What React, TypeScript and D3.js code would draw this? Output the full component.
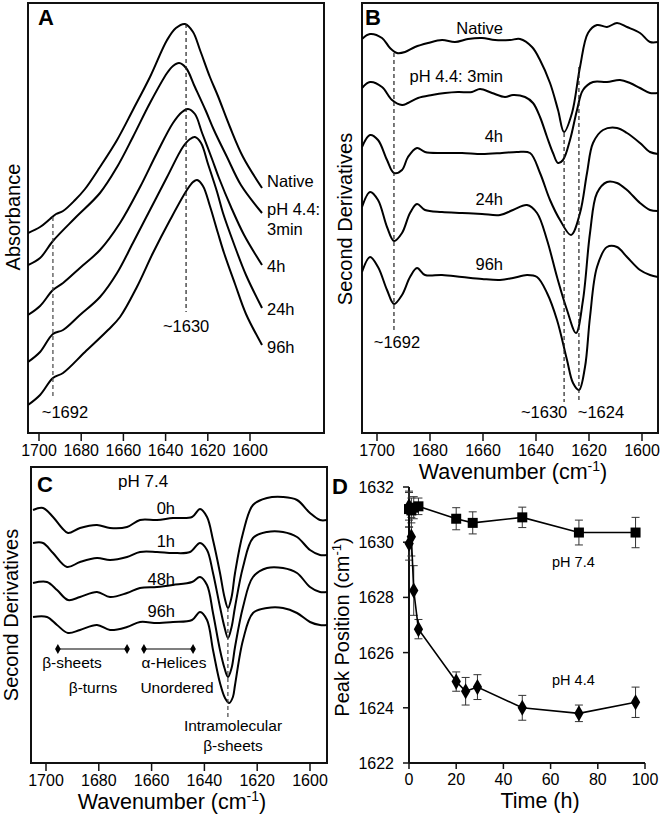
import React from 'react';
import * as d3 from 'd3';

type Pt = [number, number];

// ---------- Panel A: absorbance spectra [wavenumber cm-1, absorbance a.u. (stacked)] ----------
const absNative: Pt[] = [[1705.2,2.00],[1699.5,2.06],[1694.8,2.14],[1691.9,2.19],[1688.6,2.22],[1682.9,2.33],[1678.2,2.44],[1671.1,2.66],[1663.0,2.93],[1655.5,3.23],[1647.4,3.56],[1639.3,3.93],[1635.1,4.05],[1630.8,4.09],[1627.0,4.01],[1623.7,3.83],[1619.0,3.56],[1615.2,3.37],[1609.5,3.06],[1603.3,2.76],[1594.3,2.45]];
const abs3min: Pt[] = [[1705.2,1.68],[1699.5,1.75],[1693.4,1.92],[1682.9,2.15],[1671.1,2.40],[1663.0,2.66],[1655.5,2.96],[1647.4,3.30],[1639.3,3.60],[1636.5,3.67],[1633.6,3.70],[1630.3,3.65],[1626.1,3.46],[1620.9,3.22],[1617.1,3.03],[1610.9,2.76],[1604.3,2.48],[1594.3,2.20]];
const abs4h: Pt[] = [[1705.2,1.18],[1699.5,1.27],[1693.4,1.43],[1688.6,1.50],[1680.6,1.65],[1671.1,1.83],[1661.6,2.10],[1652.1,2.46],[1644.1,2.80],[1636.5,3.10],[1632.2,3.21],[1629.4,3.24],[1626.1,3.19],[1622.7,3.00],[1618.0,2.74],[1614.7,2.55],[1609.0,2.26],[1602.8,1.98],[1594.3,1.68]];
const abs24h: Pt[] = [[1705.2,0.71],[1699.5,0.81],[1693.4,0.99],[1688.6,1.03],[1680.6,1.18],[1671.1,1.36],[1663.0,1.60],[1655.5,1.90],[1647.4,2.23],[1639.3,2.56],[1631.8,2.86],[1628.4,2.94],[1626.1,2.96],[1623.2,2.90],[1619.9,2.69],[1615.6,2.41],[1612.8,2.20],[1607.6,1.89],[1601.9,1.58],[1594.3,1.25]];
const abs96h: Pt[] = [[1705.2,0.28],[1699.5,0.38],[1693.4,0.55],[1688.6,0.60],[1678.2,0.81],[1667.3,1.03],[1661.6,1.16],[1653.6,1.46],[1646.0,1.80],[1637.9,2.13],[1629.9,2.43],[1627.0,2.51],[1625.1,2.53],[1622.3,2.47],[1619.0,2.27],[1615.2,2.00],[1612.3,1.80],[1607.1,1.49],[1601.9,1.19],[1594.3,0.88]];
const absLabels = ['Native', 'pH 4.4:', '3min', '4h', '24h', '96h'];
const absMarks = [1693.4, 1630.3];
const absMarkLabels = ['~1692', '~1630'];

// ---------- Panel B: second derivatives ----------
const d2Native: Pt[] = [[1705.66,3.94],[1702.64,3.99],[1698.11,3.95],[1695.09,3.85],[1692.45,3.80],[1689.43,3.81],[1685.66,3.86],[1680.75,3.90],[1675.47,3.93],[1670.56,3.91],[1665.66,3.94],[1660.37,3.95],[1655.47,3.93],[1649.81,3.93],[1646.03,3.94],[1641.51,3.86],[1638.49,3.73],[1634.71,3.50],[1631.69,3.23],[1629.43,3.01],[1626.41,3.20],[1623.39,3.66],[1620.37,4.00],[1616.98,4.08],[1613.20,4.06],[1609.43,4.10],[1605.66,4.06],[1600.75,4.00],[1596.98,3.91],[1593.96,3.91]];
const d2_3min: Pt[] = [[1705.66,3.45],[1702.64,3.51],[1698.11,3.46],[1694.34,3.33],[1690.56,3.28],[1688.30,3.30],[1684.52,3.35],[1679.24,3.38],[1674.34,3.40],[1669.43,3.41],[1664.15,3.41],[1661.13,3.44],[1656.60,3.40],[1651.69,3.36],[1648.68,3.38],[1644.15,3.36],[1641.13,3.30],[1638.49,3.16],[1635.84,2.96],[1633.58,2.80],[1631.69,2.70],[1629.81,2.73],[1627.17,2.93],[1624.52,3.23],[1622.26,3.43],[1618.49,3.51],[1613.20,3.51],[1608.30,3.53],[1604.52,3.50],[1600.75,3.45],[1596.98,3.40],[1593.96,3.40]];
const d2_4h: Pt[] = [[1705.66,2.86],[1702.64,2.98],[1699.62,2.93],[1696.22,2.73],[1693.58,2.60],[1690.56,2.63],[1688.30,2.76],[1684.90,2.85],[1681.88,2.81],[1675.47,2.80],[1667.92,2.80],[1660.37,2.79],[1652.83,2.80],[1647.17,2.81],[1642.26,2.80],[1638.49,2.60],[1634.71,2.33],[1630.94,2.13],[1626.79,1.98],[1623.39,2.20],[1620.75,2.60],[1618.49,2.90],[1614.71,3.03],[1609.43,3.05],[1605.66,3.00],[1600.75,2.90],[1596.98,2.81],[1593.96,2.79]];
const d2_24h: Pt[] = [[1705.66,2.26],[1702.64,2.41],[1699.62,2.33],[1696.22,2.06],[1693.58,1.92],[1690.56,2.00],[1687.54,2.20],[1684.90,2.29],[1681.88,2.23],[1675.47,2.21],[1667.92,2.20],[1660.37,2.19],[1653.58,2.18],[1648.68,2.23],[1643.39,2.28],[1639.62,2.20],[1635.84,1.93],[1632.07,1.56],[1628.30,1.23],[1624.90,1.00],[1622.26,1.33],[1619.62,2.00],[1616.98,2.40],[1613.20,2.51],[1609.43,2.50],[1605.66,2.43],[1600.75,2.30],[1596.98,2.23],[1593.96,2.22]];
const d2_96h: Pt[] = [[1705.66,1.61],[1702.64,1.76],[1699.62,1.66],[1696.22,1.43],[1693.58,1.29],[1690.56,1.38],[1687.54,1.56],[1684.90,1.65],[1681.88,1.58],[1675.47,1.58],[1667.92,1.56],[1660.37,1.54],[1653.58,1.53],[1648.68,1.55],[1643.39,1.58],[1639.62,1.56],[1635.84,1.40],[1632.07,1.13],[1628.30,0.73],[1626.03,0.50],[1623.77,0.43],[1621.51,0.66],[1619.62,1.16],[1616.98,1.66],[1613.20,1.86],[1609.43,1.86],[1605.66,1.76],[1600.75,1.63],[1596.98,1.58],[1593.96,1.56]];
const d2Labels = ['Native', 'pH 4.4: 3min', '4h', '24h', '96h'];
const d2Marks = [1693.6, 1629.4, 1623.8];
const d2MarkLabels = ['~1692', '~1630', '~1624'];

// ---------- Panel C: second derivatives at pH 7.4 ----------
const c0h: Pt[] = [[1704.92,2.53],[1701.13,2.55],[1697.34,2.46],[1693.94,2.35],[1691.66,2.30],[1687.12,2.35],[1680.68,2.38],[1675.75,2.35],[1669.31,2.36],[1664.39,2.43],[1657.95,2.43],[1651.89,2.45],[1644.69,2.46],[1641.66,2.54],[1639.01,2.46],[1636.74,2.23],[1634.09,1.90],[1632.4,1.66],[1631.06,1.55],[1629.7,1.66],[1628.40,1.90],[1625.37,2.30],[1621.59,2.58],[1616.28,2.65],[1610.22,2.66],[1604.92,2.63],[1600.00,2.50],[1596.21,2.43],[1593.56,2.43]];
const c1h: Pt[] = [[1704.92,2.20],[1701.13,2.20],[1697.34,2.10],[1692.04,1.96],[1687.12,2.01],[1680.68,2.05],[1675.75,2.03],[1669.31,2.06],[1664.39,2.11],[1657.95,2.11],[1651.89,2.10],[1645.45,2.11],[1641.66,2.20],[1639.01,2.13],[1636.74,1.90],[1634.09,1.56],[1632.4,1.36],[1631.06,1.25],[1629.7,1.36],[1628.40,1.56],[1625.37,1.96],[1621.59,2.25],[1616.28,2.31],[1610.22,2.31],[1604.92,2.26],[1600.00,2.13],[1596.21,2.08],[1593.56,2.08]];
const c48h: Pt[] = [[1704.92,1.80],[1699.62,1.81],[1695.83,1.73],[1691.66,1.63],[1687.12,1.66],[1680.68,1.71],[1675.75,1.66],[1669.31,1.70],[1664.39,1.75],[1657.95,1.76],[1651.89,1.78],[1644.69,1.81],[1641.66,1.86],[1639.01,1.78],[1636.74,1.50],[1634.09,1.13],[1632.4,0.95],[1631.06,0.86],[1629.7,0.95],[1628.40,1.16],[1625.37,1.56],[1621.59,1.86],[1616.28,1.95],[1610.22,1.95],[1604.92,1.90],[1600.00,1.76],[1596.21,1.71],[1593.56,1.71]];
const c96h: Pt[] = [[1704.92,1.46],[1699.62,1.46],[1695.83,1.38],[1691.66,1.30],[1687.12,1.33],[1680.68,1.38],[1675.75,1.33],[1669.31,1.36],[1664.39,1.41],[1657.95,1.40],[1651.89,1.41],[1644.69,1.43],[1641.66,1.51],[1639.01,1.43],[1636.74,1.13],[1634.09,0.80],[1632.2,0.65],[1630.6,0.60],[1629.2,0.66],[1628.40,0.78],[1625.37,1.23],[1621.59,1.50],[1616.28,1.55],[1610.22,1.55],[1604.92,1.50],[1600.00,1.41],[1596.21,1.38],[1593.56,1.38]];
const cLabels = ['0h', '1h', '48h', '96h'];
const cMark = 1631.1;
const bandBetaSheets: Pt = [1695.5, 1669.3];
const bandAlphaHelices: Pt = [1662.9, 1644.3];

// ---------- Panel D: amide I peak position vs time ----------
const timePH74 = [0, 1, 2, 4, 20, 27, 48, 72, 96];
const peakPH74 = [1631.2, 1631.15, 1631.25, 1631.3, 1630.85, 1630.7, 1630.9, 1630.35, 1630.35];
const errPH74 = [0.65, 0.45, 0.4, 0.3, 0.4, 0.4, 0.37, 0.45, 0.55];
const timePH44 = [0, 0.05, 1, 2, 4, 20, 24, 29, 48, 72, 96];
const peakPH44 = [1631.3, 1629.95, 1630.2, 1628.25, 1626.85, 1624.95, 1624.6, 1624.75, 1624.0, 1623.8, 1624.2];
const errPH44 = [0.5, 0.6, 0.7, 0.9, 0.35, 0.35, 0.5, 0.45, 0.45, 0.3, 0.55];

const wavenumberTicks = [1700, 1680, 1660, 1640, 1620, 1600];
const timeTicks = [0, 20, 40, 60, 80, 100];
const peakTicks = [1622, 1624, 1626, 1628, 1630, 1632];

const FONT = "'Liberation Sans', Arial, Helvetica, sans-serif";

type Box = { x0: number; x1: number; y0: number; y1: number };

function lineFor(x: d3.ScaleLinear<number, number>, y: d3.ScaleLinear<number, number>) {
  return d3.line<Pt>().x(d => x(d[0])).y(d => y(d[1])).curve(d3.curveCatmullRom.alpha(0.5));
}

function Frame({ box, id }: { box: Box; id: string }) {
  return (
    <>
      <defs>
        <clipPath id={id}>
          <rect x={box.x0} y={box.y0} width={box.x1 - box.x0} height={box.y1 - box.y0} />
        </clipPath>
      </defs>
      <rect x={box.x0} y={box.y0} width={box.x1 - box.x0} height={box.y1 - box.y0} fill="none" stroke="#111" strokeWidth={2} />
    </>
  );
}

function WaveTicks({ x, box, labelDy }: { x: d3.ScaleLinear<number, number>; box: Box; labelDy: number }) {
  return (
    <g>
      {wavenumberTicks.map(t => (
        <g key={t}>
          <line x1={x(t)} x2={x(t)} y1={box.y1} y2={box.y1 + 8} stroke="#111" strokeWidth={1.5} />
          <text x={x(t)} y={box.y1 + labelDy} textAnchor="middle" fontSize={16}>{t}</text>
        </g>
      ))}
    </g>
  );
}

function WaveTitle({ cx, y }: { cx: number; y: number }) {
  return (
    <text x={cx} y={y} textAnchor="middle" fontSize={21.5}>
      Wavenumber (cm<tspan dy={-8} fontSize={14}>-1</tspan><tspan dy={8}>)</tspan>
    </text>
  );
}

function RotTitle({ x, cy, children }: { x: number; cy: number; children: React.ReactNode }) {
  return (
    <text transform={`translate(${x},${cy}) rotate(-90)`} textAnchor="middle" fontSize={20}>{children}</text>
  );
}

export default function App() {
  const boxA: Box = { x0: 28, x1: 324, y0: 3, y1: 433 };
  const boxB: Box = { x0: 362, x1: 658, y0: 3, y1: 433 };
  const boxC: Box = { x0: 31, x1: 327, y0: 467, y1: 763 };

  const xA = d3.scaleLinear().domain([1700, 1600]).range([39, 250]);
  const yA = d3.scaleLinear().domain([0, 4.3]).range([433, 3]);
  const xB = d3.scaleLinear().domain([1700, 1600]).range([377, 642]);
  const yB = d3.scaleLinear().domain([0, 4.3]).range([433, 3]);
  const xC = d3.scaleLinear().domain([1700, 1600]).range([46, 310]);
  const yC = d3.scaleLinear().domain([0, 2.96]).range([763, 467]);
  const xD = d3.scaleLinear().domain([0, 100]).range([409, 645]);
  const yD = d3.scaleLinear().domain([1622, 1632]).range([763, 487]);

  const lA = lineFor(xA, yA);
  const lB = lineFor(xB, yB);
  const lC = lineFor(xC, yC);
  const lD = d3.line<Pt>().x(d => xD(d[0])).y(d => yD(d[1]));

  const absCurves = [absNative, abs3min, abs4h, abs24h, abs96h];
  const d2Curves = [d2Native, d2_3min, d2_4h, d2_24h, d2_96h];
  const cCurves = [c0h, c1h, c48h, c96h];

  // label layout (pixel positions of annotation text)
  const absLabelY = [187, 215, 235, 272, 315, 353];
  const d2LabelY = [34, 82, 142, 205, 270];
  const cLabelY = [514, 547, 585, 617];

  const pts74: Pt[] = timePH74.map((t, i) => [t, peakPH74[i]]);
  const pts44: Pt[] = timePH44.map((t, i) => [t, peakPH44[i]]);

  const dash = '4,3';

  return (
    <svg width={662} height={814} viewBox="0 0 662 814" style={{ position: 'absolute', left: 0, top: 0, background: '#fff' }} fontFamily={FONT}>
      <rect x={0} y={0} width={662} height={814} fill="#fff" />

      {/* ---------------- Panel A ---------------- */}
      <Frame box={boxA} id="clipA" />
      <g clipPath="url(#clipA)">
        {absCurves.map((c, i) => (
          <path key={i} d={lA(c) || ''} fill="none" stroke="#000" strokeWidth={2} />
        ))}
      </g>
      <line x1={xA(absMarks[0])} x2={xA(absMarks[0])} y1={217} y2={398} stroke="#444" strokeWidth={1.2} strokeDasharray={dash} />
      <line x1={xA(absMarks[1])} x2={xA(absMarks[1])} y1={yA(4.09)} y2={312} stroke="#222" strokeWidth={1.2} strokeDasharray={dash} />
      <text x={xA(absMarks[0]) + 12} y={418} textAnchor="middle" fontSize={16.5}>{absMarkLabels[0]}</text>
      <text x={xA(absMarks[1])} y={332} textAnchor="middle" fontSize={16.5}>{absMarkLabels[1]}</text>
      {absLabels.map((s, i) => (
        <text key={s} x={267} y={absLabelY[i]} fontSize={16.5}>{s}</text>
      ))}
      <text x={38} y={25} fontSize={22} fontWeight="bold">A</text>
      <RotTitle x={20} cy={217}>Absorbance</RotTitle>
      <WaveTicks x={xA} box={boxA} labelDy={23} />

      {/* ---------------- Panel B ---------------- */}
      <Frame box={boxB} id="clipB" />
      <g clipPath="url(#clipB)">
        {d2Curves.map((c, i) => (
          <path key={i} d={lB(c) || ''} fill="none" stroke="#000" strokeWidth={2} />
        ))}
      </g>
      <line x1={xB(d2Marks[0])} x2={xB(d2Marks[0])} y1={53} y2={330} stroke="#222" strokeWidth={1.2} strokeDasharray={dash} />
      <line x1={xB(d2Marks[1])} x2={xB(d2Marks[1])} y1={133} y2={402} stroke="#222" strokeWidth={1.2} strokeDasharray={dash} />
      <line x1={xB(d2Marks[2])} x2={xB(d2Marks[2])} y1={67} y2={400} stroke="#222" strokeWidth={1.2} strokeDasharray={dash} />
      <text x={xB(d2Marks[0]) + 3} y={348} textAnchor="middle" fontSize={16.5}>{d2MarkLabels[0]}</text>
      <text x={xB(d2Marks[1]) - 20} y={418} textAnchor="middle" fontSize={16.5}>{d2MarkLabels[1]}</text>
      <text x={xB(d2Marks[2]) + 22} y={418} textAnchor="middle" fontSize={16.5}>{d2MarkLabels[2]}</text>
      {d2Labels.map((s, i) => (
        <text key={s} x={503} y={d2LabelY[i]} textAnchor="end" fontSize={16.5}>{s}</text>
      ))}
      <text x={365} y={25} fontSize={22} fontWeight="bold">B</text>
      <RotTitle x={352} cy={219}>Second Derivatives</RotTitle>
      <WaveTicks x={xB} box={boxB} labelDy={23} />
      <WaveTitle cx={513} y={479} />

      {/* ---------------- Panel C ---------------- */}
      <Frame box={boxC} id="clipC" />
      <g clipPath="url(#clipC)">
        {cCurves.map((c, i) => (
          <path key={i} d={lC(c) || ''} fill="none" stroke="#000" strokeWidth={2} />
        ))}
      </g>
      <line x1={xC(cMark)} x2={xC(cMark)} y1={608} y2={718} stroke="#444" strokeWidth={1.2} strokeDasharray={dash} />
      {cLabels.map((s, i) => (
        <text key={s} x={175} y={cLabelY[i]} textAnchor="end" fontSize={16.5}>{s}</text>
      ))}
      <text x={118} y={487} fontSize={17}>pH 7.4</text>
      {[bandBetaSheets, bandAlphaHelices].map((b, i) => (
        <g key={i}>
          <line x1={xC(b[0])} x2={xC(b[1])} y1={649} y2={649} stroke="#000" strokeWidth={1.2} />
          {[b[0], b[1]].map((w, j) => (
            <path key={j} d={d3.symbol().type(d3.symbolDiamond).size(28)() || ''} transform={`translate(${xC(w)},649)`} fill="#000" />
          ))}
        </g>
      ))}
      <text x={72} y={668} textAnchor="middle" fontSize={15.5}>β-sheets</text>
      <text x={93} y={693} textAnchor="middle" fontSize={15.5}>β-turns</text>
      <text x={174} y={668} textAnchor="middle" fontSize={15.5}>α-Helices</text>
      <text x={177} y={693} textAnchor="middle" fontSize={15.5}>Unordered</text>
      <text x={233} y={731} textAnchor="middle" fontSize={15.5}>Intramolecular</text>
      <text x={233} y={751} textAnchor="middle" fontSize={15.5}>β-sheets</text>
      <text x={37} y={492} fontSize={22} fontWeight="bold">C</text>
      <RotTitle x={18} cy={615}>Second Derivatives</RotTitle>
      <WaveTicks x={xC} box={boxC} labelDy={23} />
      <WaveTitle cx={172} y={809} />

      {/* ---------------- Panel D ---------------- */}
      <line x1={409} x2={409} y1={yD(1632)} y2={yD(1622)} stroke="#111" strokeWidth={2} />
      <line x1={409} x2={xD(100)} y1={763} y2={763} stroke="#111" strokeWidth={2} />
      {peakTicks.map(t => (
        <g key={t}>
          <line x1={403} x2={409} y1={yD(t)} y2={yD(t)} stroke="#111" strokeWidth={1.5} />
          <text x={394} y={yD(t) + 6} textAnchor="end" fontSize={16}>{t}</text>
        </g>
      ))}
      {timeTicks.map(t => (
        <g key={t}>
          <line x1={xD(t)} x2={xD(t)} y1={763} y2={769} stroke="#111" strokeWidth={1.5} />
          <text x={xD(t)} y={785} textAnchor="middle" fontSize={16}>{t}</text>
        </g>
      ))}
      {/* error bars */}
      {[...pts74.map((p, i) => [p, errPH74[i]] as [Pt, number]), ...pts44.map((p, i) => [p, errPH44[i]] as [Pt, number])].map(([p, e], i) => (
        <g key={i} stroke="#333" strokeWidth={1}>
          <line x1={xD(p[0])} x2={xD(p[0])} y1={yD(p[1] + e)} y2={yD(p[1] - e)} />
          <line x1={xD(p[0]) - 4} x2={xD(p[0]) + 4} y1={yD(p[1] + e)} y2={yD(p[1] + e)} />
          <line x1={xD(p[0]) - 4} x2={xD(p[0]) + 4} y1={yD(p[1] - e)} y2={yD(p[1] - e)} />
        </g>
      ))}
      <path d={lD(pts74) || ''} fill="none" stroke="#000" strokeWidth={1.6} />
      <path d={lD(pts44) || ''} fill="none" stroke="#000" strokeWidth={1.6} />
      {pts74.map((p, i) => (
        <rect key={i} x={xD(p[0]) - 5} y={yD(p[1]) - 5} width={10} height={10} fill="#000" />
      ))}
      {pts44.map((p, i) => (
        <path key={i} d={d3.symbol().type(d3.symbolDiamond).size(75)() || ''} transform={`translate(${xD(p[0])},${yD(p[1])})`} fill="#000" />
      ))}
      <text x={552} y={567} fontSize={14.5}>pH 7.4</text>
      <text x={552} y={685} fontSize={14.5}>pH 4.4</text>
      <text x={332} y={494} fontSize={22} fontWeight="bold">D</text>
      <RotTitle x={349} cy={627}>
        Peak Position (cm<tspan dy={-8} fontSize={13}>-1</tspan><tspan dy={8}>)</tspan>
      </RotTitle>
      <text x={540} y={808} textAnchor="middle" fontSize={21.5}>Time (h)</text>
    </svg>
  );
}
